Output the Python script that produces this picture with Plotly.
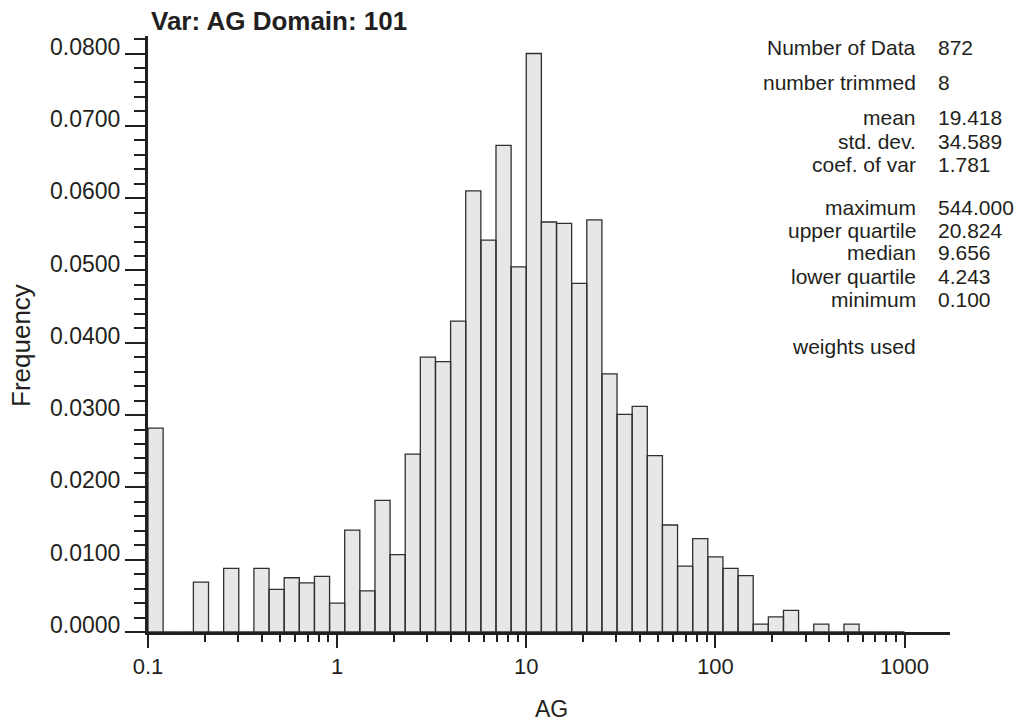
import math
import plotly.graph_objects as go

# ---------------- data ----------------
bin_min = 0.1
bin_max = 1000.0
n_bins = 50
frequency = [
    0.0282, 0.0, 0.0, 0.0069, 0.0, 0.0088, 0.0, 0.0088, 0.0059, 0.0075,
    0.0068, 0.0077, 0.0040, 0.0141, 0.0057, 0.0182, 0.0107, 0.0246, 0.0380, 0.0374,
    0.0430, 0.0610, 0.0542, 0.0673, 0.0505, 0.0800, 0.0567, 0.0565, 0.0482, 0.0570,
    0.0357, 0.0301, 0.0312, 0.0244, 0.0148, 0.0091, 0.0129, 0.0104, 0.0088, 0.0078,
    0.0011, 0.0021, 0.0030, 0.0, 0.0011, 0.0, 0.0011, 0.0, 0.0, 0.0,
]
x_tick_vals = [0.1, 1, 10, 100, 1000]
x_tick_text = ["0.1", "1", "10", "100", "1000"]
y_tick_vals = [0.00, 0.01, 0.02, 0.03, 0.04, 0.05, 0.06, 0.07, 0.08]

stat_labels = ["Number of Data", "number trimmed", "mean", "std. dev.", "coef. of var",
               "maximum", "upper quartile", "median", "lower quartile", "minimum",
               "weights used"]
stat_values = ["872", "8", "19.418", "34.589", "1.781",
               "544.000", "20.824", "9.656", "4.243", "0.100", ""]

title_text = "Var: AG Domain: 101"
x_title = "AG"
y_title = "Frequency"

# ---------------- layout geometry (pixels) ----------------
W, H = 1029, 727
L, R, T, B = 148, 950, 36, 632
stat_rows_y = [48, 82, 118, 141, 164, 207, 230, 253, 276, 299, 346]

def px_x(p):
    return (p - L) / (R - L)

def px_y(p):
    return (B - p) / (B - T)

FONT = "Liberation Sans, Arial, Helvetica, sans-serif"
INK = "#231f20"

# bin edges in log space
lo, hi = math.log10(bin_min), math.log10(bin_max)
step = (hi - lo) / n_bins
edges = [10 ** (lo + i * step) for i in range(n_bins + 1)]

xs, ys = [], []
for i, f in enumerate(frequency):
    a, b = edges[i], edges[i + 1]
    xs += [a, a, b, b, a, None]
    ys += [0, f, f, 0, 0, None]

fig = go.Figure()
fig.add_trace(go.Scatter(
    x=xs, y=ys, mode="lines", fill="toself",
    fillcolor="#e6e7e6", line=dict(color="#303030", width=1.3),
    hoverinfo="skip", showlegend=False,
))

x_right = lo + (hi - lo) * (R - L) / (904.5 - L)
y_top = 0.08 * (B - T) / (B - 53.5)

minor_x = []
for d in [0.1, 1, 10, 100, 1000]:
    for k in range(2, 10):
        v = d * k
        if math.log10(v) <= x_right:
            minor_x.append(v)

fig.update_layout(
    width=W, height=H,
    margin=dict(l=L, r=W - R, t=T, b=H - B, pad=0),
    paper_bgcolor="white", plot_bgcolor="white",
    font=dict(family=FONT, color=INK),
    showlegend=False,
)
fig.update_xaxes(
    type="log", range=[lo, x_right],
    tickvals=x_tick_vals, ticktext=x_tick_text,
    ticks="outside", ticklen=13, tickwidth=1.5, tickcolor=INK,
    minor=dict(tickvals=minor_x, ticks="outside", ticklen=7, tickwidth=1.5, tickcolor=INK),
    showline=True, linewidth=3, linecolor=INK,
    showgrid=False, zeroline=False,
    tickfont=dict(size=22, family=FONT, color=INK),
)
fig.update_yaxes(
    range=[0, y_top],
    tickvals=y_tick_vals, tickformat=".4f",
    ticks="outside", ticklen=20, tickwidth=1.5, tickcolor=INK,
    minor=dict(dtick=0.002, ticks="outside", ticklen=11, tickwidth=1.5, tickcolor=INK),
    showline=True, linewidth=3, linecolor=INK,
    showgrid=False, zeroline=False,
    ticklabelshift=-7, ticklabelstandoff=0,
    tickfont=dict(size=23, family=FONT, color=INK),
)

ann = []
ann.append(dict(text="<b>%s</b>" % title_text, x=px_x(149), y=px_y(21),
                xanchor="left", yanchor="middle", showarrow=False,
                font=dict(size=26, family=FONT, color=INK)))
ann.append(dict(text=x_title, x=px_x(551), y=px_y(709),
                xanchor="center", yanchor="middle", showarrow=False,
                font=dict(size=23, family=FONT, color=INK)))
ann.append(dict(text=y_title, x=px_x(21), y=px_y(346), textangle=-90,
                xanchor="center", yanchor="middle", showarrow=False,
                font=dict(size=26, family=FONT, color=INK)))
for lab, val, yy in zip(stat_labels, stat_values, stat_rows_y):
    ann.append(dict(text=lab, x=px_x(918), y=px_y(yy), xanchor="right", yanchor="middle",
                    showarrow=False, font=dict(size=21, family=FONT, color=INK)))
    if val:
        ann.append(dict(text=val, x=px_x(936), y=px_y(yy), xanchor="left", yanchor="middle",
                        showarrow=False, font=dict(size=21, family=FONT, color=INK)))
for a in ann:
    a["xref"] = "paper"
    a["yref"] = "paper"
fig.update_layout(annotations=ann)

fig.write_html("out.html")
